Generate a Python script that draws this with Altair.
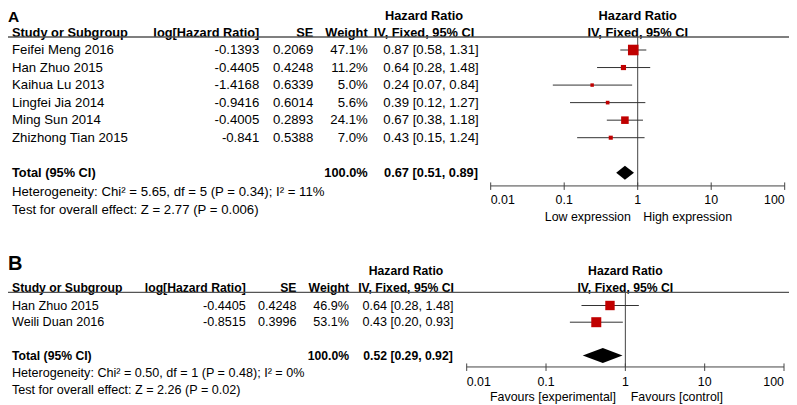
import altair as alt
import pandas as pd

FONT = "Liberation Sans"
W, H = 781, 397

tick_values = [0.01, 0.1, 1, 10, 100]
tick_labels = ["0.01", "0.1", "1", "10", "100"]

col_headers = ["Study or Subgroup", "log[Hazard Ratio]", "SE", "Weight", "IV, Fixed, 95% CI"]
hr_title = "Hazard Ratio"
total_label = "Total (95% CI)"

a_study = ["Feifei Meng 2016", "Han Zhuo 2015", "Kaihua Lu 2013", "Lingfei Jia 2014",
           "Ming Sun 2014", "Zhizhong Tian 2015"]
a_loghr = [-0.1393, -0.4405, -1.4168, -0.9416, -0.4005, -0.841]
a_se = [0.2069, 0.4248, 0.6339, 0.6014, 0.2893, 0.5388]
a_weight = [47.1, 11.2, 5.0, 5.6, 24.1, 7.0]
a_hr = [0.87, 0.64, 0.24, 0.39, 0.67, 0.43]
a_lo = [0.58, 0.28, 0.07, 0.12, 0.38, 0.15]
a_hi = [1.31, 1.48, 0.84, 1.27, 1.18, 1.24]
a_total = [0.67, 0.51, 0.89]
a_het = "Heterogeneity: Chi² = 5.65, df = 5 (P = 0.34); I² = 11%"
a_test = "Test for overall effect: Z = 2.77 (P = 0.006)"
a_sides = ["Low expression", "High expression"]

b_study = ["Han Zhuo 2015", "Weili Duan 2016"]
b_loghr = [-0.4405, -0.8515]
b_se = [0.4248, 0.3996]
b_weight = [46.9, 53.1]
b_hr = [0.64, 0.43]
b_lo = [0.28, 0.20]
b_hi = [1.48, 0.93]
b_total = [0.52, 0.29, 0.92]
b_het = "Heterogeneity: Chi² = 0.50, df = 1 (P = 0.48); I² = 0%"
b_test = "Test for overall effect: Z = 2.26 (P = 0.02)"
b_sides = ["Favours [experimental]", "Favours [control]"]

LA = dict(xr=[482.7, 776.7], yr=[42.0, 59.54], fs=13.2, fsb=12.8, fsa=12.4,
          c_study=4, c_loghr=251.3, c_se=305.3, c_w=359.7, c_ci=423, c_hdr=416,
          r_h1=-1.95, r_h2=-0.96, r_line=-0.74, r_total=7, r_het=8.07, r_test=9.12,
          r_axis=7.75, r_tlab=8.55, r_side=9.5, dia_half=7.0, side_dx=(-6.8, 5.5),
          letter_y=14, letter_fs=15.5, sq_max=112)
LB = dict(xr=[458.7, 776.0], yr=[297.5, 314.2], fs=12.6, fsb=12.2, fsa=12.4,
          c_study=4, c_loghr=237.7, c_se=288.5, c_w=341, c_ci=400, c_hdr=398,
          r_h1=-2.08, r_h2=-1.03, r_line=-0.78, r_total=3, r_het=4.04, r_test=5.06,
          r_axis=3.68, r_tlab=4.58, r_side=5.48, dia_half=7.5, side_dx=(-9.3, 5.4),
          letter_y=262, letter_fs=20, sq_max=100)


def panel(letter, study, loghr, se, weight, hr, lo, hi, total, het, test, sides, L):
    n = len(study)
    xs = alt.Scale(type="log", domain=[tick_values[0], tick_values[-1]], range=L["xr"], nice=False)
    ys = alt.Scale(type="linear", domain=[0, 1], range=L["yr"], nice=False, zero=False)
    step = L["yr"][1] - L["yr"][0]
    fs, fsb, fsa = L["fs"], L["fsb"], L["fsa"]
    v = alt.value

    rows = pd.DataFrame({
        "row": list(range(n)),
        "study": study,
        "loghr": [str(x) for x in loghr],
        "se": [str(x) for x in se],
        "weight": weight,
        "wtxt": [f"{w:.1f}%" for w in weight],
        "hr": hr, "lo": lo, "hi": hi,
        "ci": [f"{h:.2f} [{l:.2f}, {u:.2f}]" for h, l, u in zip(hr, lo, hi)],
    })
    one = pd.DataFrame({"k": [0]})

    def text(df, field, x, align, size, bold=False, dx=0):
        return alt.Chart(df).mark_text(
            align=align, baseline="middle", font=FONT, fontSize=size,
            fontWeight="bold" if bold else "normal", color="black", dx=dx
        ).encode(x=x, y=alt.Y("row:Q", scale=ys, axis=None), text=alt.Text(f"{field}:N"))

    def label(s, r, x, align, size, bold=False, dx=0):
        return text(pd.DataFrame({"text": [s], "row": [r]}), "text", x, align, size, bold, dx)

    def yd(val):
        return alt.YDatum(val, type="quantitative", scale=ys, axis=None)

    x1 = alt.XDatum(1, type="quantitative", scale=xs, axis=None)
    xt = alt.X("tick:Q", scale=xs, axis=None)
    layers = []

    layers.append(alt.Chart(one).mark_text(
        align="left", baseline="alphabetic", font=FONT, fontSize=L["letter_fs"],
        fontWeight="bold", color="black").encode(x=v(0), y=v(L["letter_y"]), text=v(letter)))

    # headers
    layers += [
        label(hr_title, L["r_h1"], v(L["c_hdr"]), "center", fsb, True),
        label(hr_title, L["r_h1"], x1, "center", fsb, True),
        label(col_headers[0], L["r_h2"], v(L["c_study"]), "left", fsb, True),
        label(col_headers[1], L["r_h2"], v(L["c_loghr"]), "right", fsb, True),
        label(col_headers[2], L["r_h2"], v(L["c_se"]), "right", fsb, True),
        label(col_headers[3], L["r_h2"], v(L["c_w"]), "right", fsb, True),
        label(col_headers[4], L["r_h2"], v(L["c_hdr"]), "center", fsb, True),
        label(col_headers[4], L["r_h2"], x1, "center", fsb, True),
    ]
    layers.append(alt.Chart(one).mark_rule(color="#555555", strokeWidth=1.3).encode(
        x=v(0), x2=v(W), y=yd(L["r_line"])))

    # null line and axis
    layers.append(alt.Chart(one).mark_rule(color="#444444", strokeWidth=1).encode(
        x=x1, y=yd(L["r_line"]), y2=alt.Y2Datum(L["r_axis"])))
    layers.append(alt.Chart(one).mark_rule(color="#444444", strokeWidth=1).encode(
        x=alt.XDatum(tick_values[0], type="quantitative", scale=xs, axis=None),
        x2=alt.X2Datum(tick_values[-1]), y=yd(L["r_axis"])))
    tdf = pd.DataFrame({"tick": tick_values, "label": tick_labels, "row": L["r_tlab"]})
    layers.append(alt.Chart(tdf).mark_rule(color="#444444", strokeWidth=1).encode(
        x=xt, y=yd(L["r_axis"] - 3.5 / step), y2=alt.Y2Datum(L["r_axis"] + 4.0 / step)))
    layers.append(text(tdf.iloc[[0]], "label", xt, "left", fsa))
    layers.append(text(tdf.iloc[1:-1], "label", xt, "center", fsa))
    layers.append(text(tdf.iloc[[-1]], "label", xt, "right", fsa))
    layers.append(label(sides[0], L["r_side"], x1, "right", fsa, dx=L["side_dx"][0]))
    layers.append(label(sides[1], L["r_side"], x1, "left", fsa, dx=L["side_dx"][1]))

    # study rows
    layers += [
        text(rows, "study", v(L["c_study"]), "left", fs),
        text(rows, "loghr", v(L["c_loghr"]), "right", fs),
        text(rows, "se", v(L["c_se"]), "right", fs),
        text(rows, "wtxt", v(L["c_w"]), "right", fs),
        text(rows, "ci", v(L["c_ci"]), "center", fs),
    ]
    layers.append(alt.Chart(rows).mark_rule(color="#333333", strokeWidth=1).encode(
        x=alt.X("lo:Q", scale=xs, axis=None), x2="hi:Q",
        y=alt.Y("row:Q", scale=ys, axis=None)))
    layers.append(alt.Chart(rows).mark_square(color="#c00000", opacity=1, filled=True).encode(
        x=alt.X("hr:Q", scale=xs, axis=None), y=alt.Y("row:Q", scale=ys, axis=None),
        size=alt.Size("weight:Q", scale=alt.Scale(domain=[0, max(weight)], range=[0, L["sq_max"]]),
                      legend=None)))

    # total
    tr = L["r_total"]
    layers.append(label(total_label, tr, v(L["c_study"]), "left", fsb, True))
    layers.append(label(f"{sum(weight):.1f}%", tr, v(L["c_w"]), "right", fsb, True))
    layers.append(label(f"{total[0]:.2f} [{total[1]:.2f}, {total[2]:.2f}]", tr,
                        v(L["c_ci"]), "center", fsb, True))
    h = L["dia_half"] / step
    ddf = pd.DataFrame({"x": [total[1], total[0], total[2]],
                        "y": [tr, tr - h, tr], "y2": [tr, tr + h, tr]})
    layers.append(alt.Chart(ddf).mark_area(color="black", orient="vertical", interpolate="linear").encode(
        x=alt.X("x:Q", scale=xs, axis=None), y=alt.Y("y:Q", scale=ys, axis=None), y2="y2:Q"))

    layers.append(label(het, L["r_het"], v(L["c_study"]), "left", fs))
    layers.append(label(test, L["r_test"], v(L["c_study"]), "left", fs))
    return alt.layer(*layers)


pa = panel("A", a_study, a_loghr, a_se, a_weight, a_hr, a_lo, a_hi, a_total, a_het, a_test, a_sides, LA)
pb = panel("B", b_study, b_loghr, b_se, b_weight, b_hr, b_lo, b_hi, b_total, b_het, b_test, b_sides, LB)

chart = alt.layer(pa, pb).resolve_scale(
    x="independent", y="independent", size="independent"
).properties(
    width=W, height=H, padding=0, autosize=alt.AutoSizeParams(type="none"),
    background="white"
).configure_view(stroke=None)

chart.save("out.html", embed_options={"renderer": "svg", "actions": False})
